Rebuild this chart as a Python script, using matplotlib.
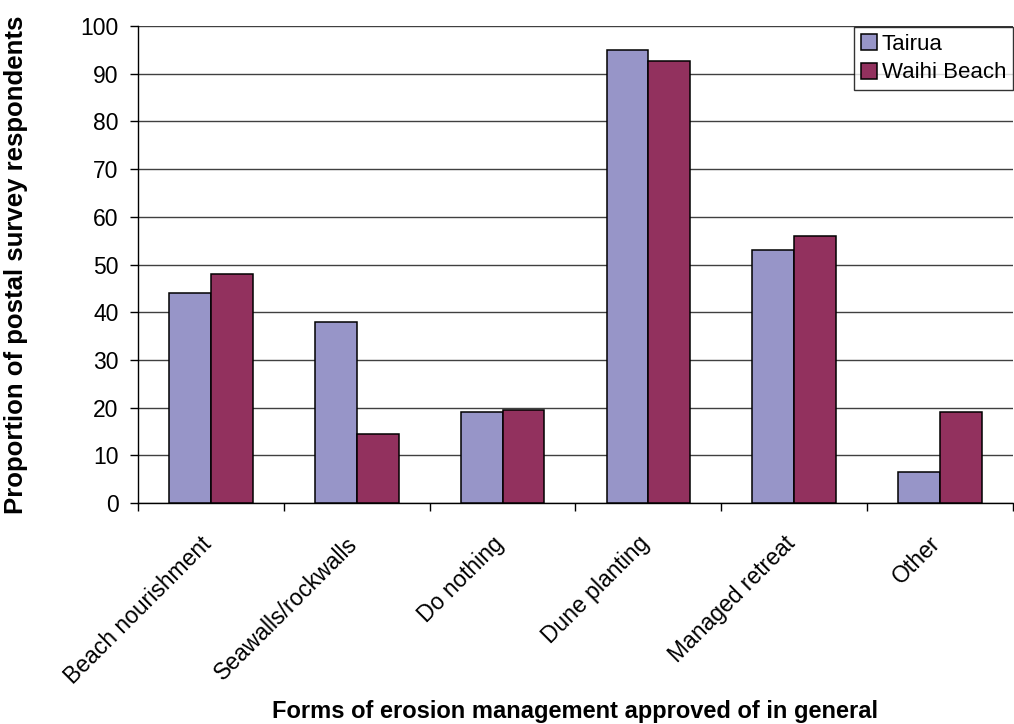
import numpy as np
import matplotlib
matplotlib.use("Agg")
import matplotlib.pyplot as plt
from matplotlib.transforms import ScaledTranslation

plt.rcParams['font.family'] = ['Liberation Sans', 'DejaVu Sans']

categories = ["Beach nourishment", "Seawalls/rockwalls", "Do nothing",
              "Dune planting", "Managed retreat", "Other"]
tairua = [44, 38, 19, 95, 53, 6.5]
waihi = [48, 14.5, 19.5, 92.7, 56, 19]

W, H = 1014, 724
fig = plt.figure(figsize=(W / 100, H / 100), dpi=100)
# plot area in pixels: x 138..1013, y 26..503
ax = fig.add_axes([138 / W, 1 - 503 / H, (1013 - 138) / W, (503 - 26) / H])

x = np.arange(len(categories))
w = 0.287
ax.bar(x - w/2, tairua, w, color='#9795c8', edgecolor='black', linewidth=1.1, label='Tairua', zorder=3)
ax.bar(x + w/2, waihi, w, color='#92315e', edgecolor='black', linewidth=1.1, label='Waihi Beach', zorder=3)

ax.set_xlim(-0.5, len(categories) - 0.5)
ax.set_ylim(0, 100)
ax.set_yticks(np.arange(0, 101, 10))
ax.yaxis.grid(True, color='#404040', linewidth=1.0, zorder=0)
ax.set_axisbelow(True)

ax.set_xticks(x)
ax.set_xticklabels(categories, rotation=45, ha='right', va='top', rotation_mode='anchor', fontsize=16.5)
ax.set_xticks(np.arange(-0.5, len(categories)), minor=True)
ax.tick_params(axis='x', which='major', length=0, pad=21)
ax.tick_params(axis='x', which='minor', length=6, width=1, direction='out')
ax.tick_params(axis='y', length=6, width=1, pad=8, labelsize=16.5, direction='out')
# shift the rotated labels a bit left so they end under the tick
for lab in ax.get_xticklabels():
    lab.set_transform(lab.get_transform() + ScaledTranslation(-11 / 100, 0, fig.dpi_scale_trans))

for s in ['top', 'right']:
    ax.spines[s].set_visible(False)
ax.spines['left'].set_linewidth(1)
ax.spines['bottom'].set_linewidth(1)

fig.text(16 / W, 1 - 265 / H, 'Proportion of postal survey respondents', rotation=90,
         ha='center', va='center', fontsize=18.5, fontweight='bold')
fig.text(575 / W, 1 - 718 / H, 'Forms of erosion management approved of in general',
         ha='center', va='baseline', fontsize=17, fontweight='bold')

leg = ax.legend(loc='upper right', bbox_to_anchor=(1013 / W, 1 - 27 / H), bbox_transform=fig.transFigure,
                fontsize=16, frameon=True, fancybox=False, edgecolor='black',
                handlelength=0.75, handleheight=0.75, handletextpad=0.2,
                borderpad=0.3, labelspacing=0.35, borderaxespad=0)
leg.get_frame().set_linewidth(1)

fig.savefig('out.png', dpi=100)
